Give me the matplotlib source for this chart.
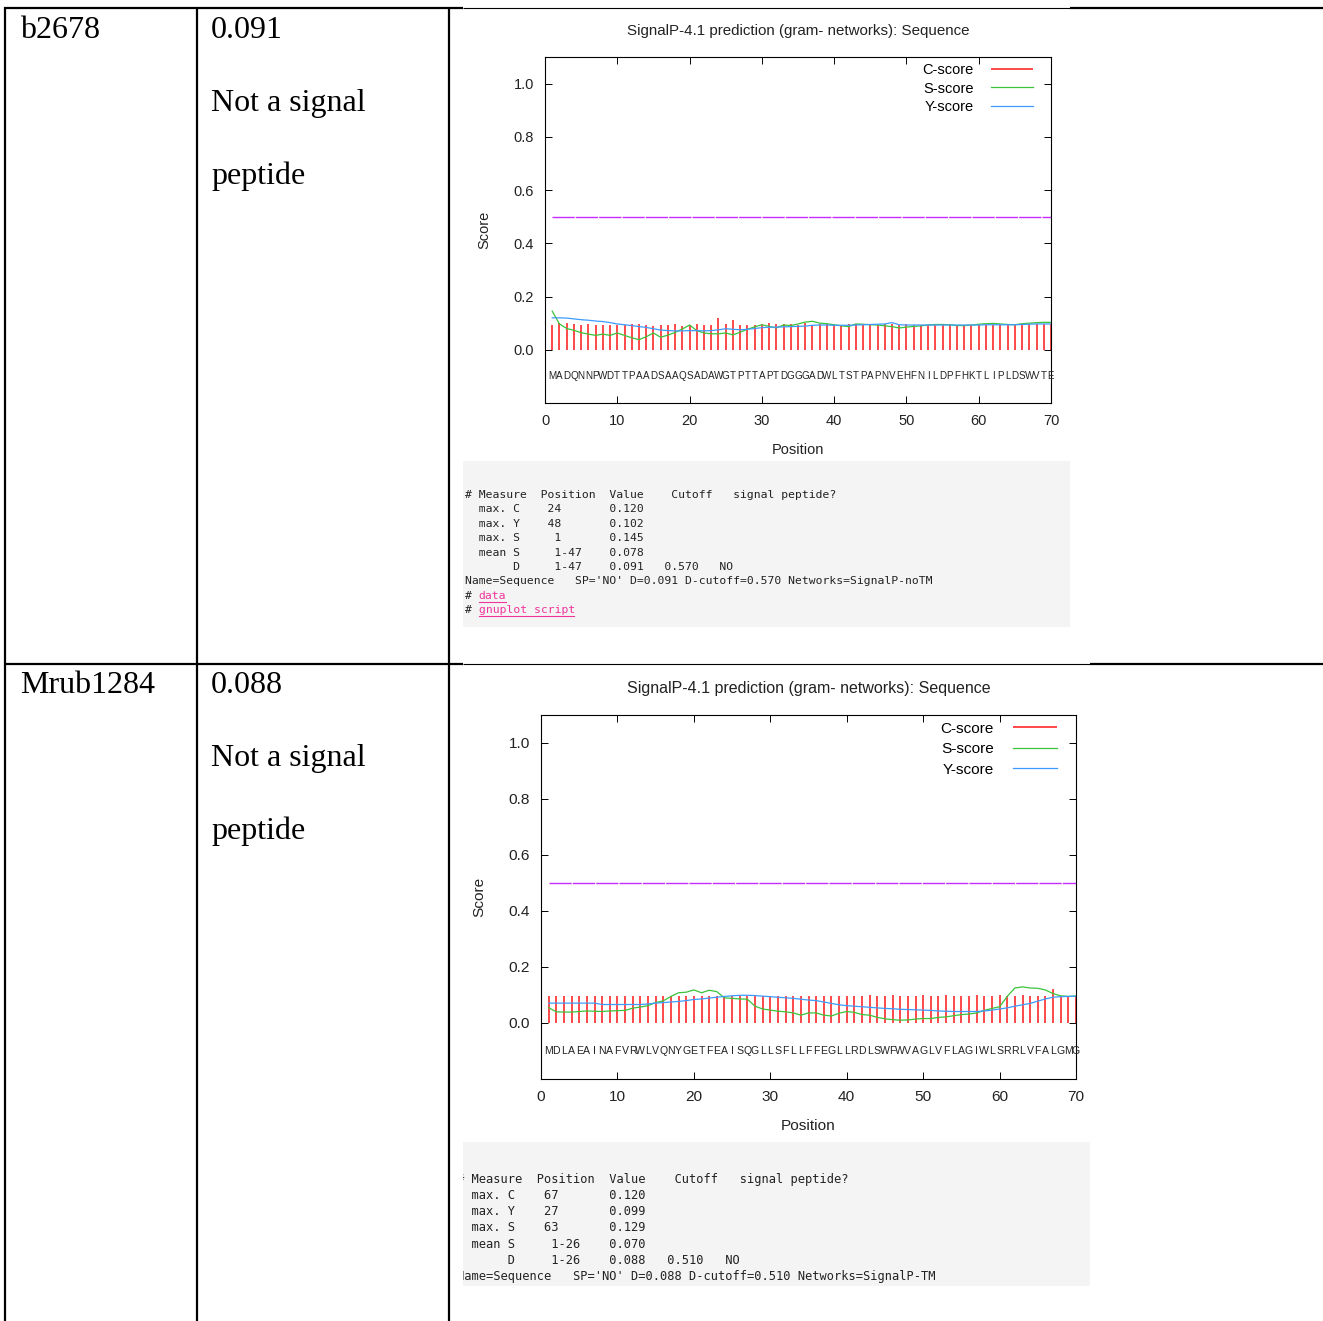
import numpy as np
import matplotlib
matplotlib.use('Agg')
import matplotlib.pyplot as plt

W, H = 1323, 1321

# table cells
gene_ids = ['b2678', 'Mrub1284']
d_scores = ['0.091', '0.088']
verdict = ['Not a signal', 'peptide']

# SignalP per-residue scores
positions = np.arange(1, 71)
cutoff = 0.5

seq1 = 'MADQNNPWDTTPAADSAAQSADAWGTPTTAPTDGGGADWLTSTPAPNVEHFNILDPFHKTLIPLDSWVTE'
c1 = [0.094, 0.099, 0.102, 0.098, 0.094, 0.098, 0.094, 0.094, 0.094, 0.094,
      0.094, 0.098, 0.098, 0.094, 0.090, 0.094, 0.094, 0.098, 0.090, 0.094,
      0.098, 0.094, 0.094, 0.120, 0.098, 0.112, 0.094, 0.094, 0.094, 0.098,
      0.102, 0.098, 0.098, 0.098, 0.094, 0.099, 0.094, 0.098, 0.096, 0.094,
      0.094, 0.096, 0.095, 0.094, 0.094, 0.094, 0.097, 0.095, 0.094, 0.098,
      0.094, 0.094, 0.094, 0.094, 0.094, 0.095, 0.094, 0.094, 0.094, 0.094,
      0.094, 0.094, 0.095, 0.094, 0.094, 0.094, 0.095, 0.096, 0.097, 0.096]
s1 = [0.145, 0.097, 0.080, 0.073, 0.064, 0.059, 0.054, 0.059, 0.054, 0.063,
      0.054, 0.045, 0.038, 0.049, 0.063, 0.047, 0.055, 0.065, 0.078, 0.093,
      0.072, 0.063, 0.060, 0.060, 0.063, 0.056, 0.066, 0.077, 0.086, 0.094,
      0.088, 0.082, 0.093, 0.091, 0.097, 0.104, 0.107, 0.100, 0.098, 0.094,
      0.090, 0.087, 0.097, 0.096, 0.094, 0.093, 0.090, 0.087, 0.082, 0.085,
      0.088, 0.090, 0.093, 0.095, 0.095, 0.094, 0.091, 0.091, 0.093, 0.096,
      0.098, 0.099, 0.097, 0.095, 0.094, 0.098, 0.100, 0.102, 0.103, 0.103]
y1 = [0.120, 0.120, 0.119, 0.116, 0.113, 0.111, 0.108, 0.106, 0.102, 0.097,
      0.094, 0.091, 0.087, 0.084, 0.079, 0.074, 0.072, 0.071, 0.071, 0.072,
      0.072, 0.071, 0.072, 0.075, 0.079, 0.077, 0.075, 0.077, 0.080, 0.083,
      0.085, 0.085, 0.086, 0.087, 0.088, 0.089, 0.092, 0.093, 0.093, 0.092,
      0.092, 0.092, 0.093, 0.094, 0.095, 0.096, 0.097, 0.102, 0.094, 0.093,
      0.093, 0.093, 0.093, 0.093, 0.093, 0.093, 0.093, 0.093, 0.093, 0.093,
      0.094, 0.094, 0.094, 0.094, 0.094, 0.095, 0.096, 0.097, 0.097, 0.097]

seq2 = 'MDLAEAINAFVRWLVQNYGETFEAISQGLLSFLLFFEGLLRDLSWFWVAGLVFLAGIWLSRRLVFALGMG'
c2 = [0.098, 0.098, 0.097, 0.098, 0.098, 0.097, 0.098, 0.098, 0.098, 0.097,
      0.098, 0.098, 0.098, 0.097, 0.098, 0.098, 0.098, 0.098, 0.097, 0.098,
      0.098, 0.098, 0.097, 0.098, 0.098, 0.098, 0.098, 0.097, 0.098, 0.098,
      0.098, 0.097, 0.098, 0.098, 0.098, 0.098, 0.098, 0.097, 0.098, 0.098,
      0.098, 0.098, 0.099, 0.098, 0.098, 0.100, 0.098, 0.098, 0.098, 0.099,
      0.098, 0.098, 0.100, 0.098, 0.098, 0.098, 0.099, 0.098, 0.098, 0.100,
      0.098, 0.098, 0.099, 0.098, 0.098, 0.098, 0.120, 0.098, 0.098, 0.098]
s2 = [0.055, 0.040, 0.039, 0.039, 0.041, 0.043, 0.042, 0.041, 0.043, 0.044,
      0.045, 0.053, 0.057, 0.062, 0.073, 0.079, 0.095, 0.108, 0.110, 0.118,
      0.108, 0.117, 0.112, 0.090, 0.088, 0.086, 0.085, 0.060, 0.050, 0.046,
      0.042, 0.040, 0.036, 0.028, 0.036, 0.036, 0.028, 0.025, 0.035, 0.041,
      0.038, 0.030, 0.028, 0.020, 0.015, 0.012, 0.010, 0.011, 0.014, 0.016,
      0.016, 0.020, 0.022, 0.026, 0.030, 0.032, 0.036, 0.045, 0.052, 0.058,
      0.095, 0.125, 0.129, 0.125, 0.124, 0.118, 0.105, 0.097, 0.095, 0.096]
y2 = [0.071, 0.071, 0.071, 0.071, 0.071, 0.071, 0.071, 0.066, 0.066, 0.066,
      0.066, 0.066, 0.066, 0.068, 0.071, 0.073, 0.075, 0.077, 0.080, 0.084,
      0.086, 0.089, 0.092, 0.095, 0.097, 0.099, 0.099, 0.098, 0.096, 0.094,
      0.092, 0.090, 0.088, 0.085, 0.082, 0.080, 0.075, 0.070, 0.065, 0.062,
      0.060, 0.058, 0.056, 0.054, 0.052, 0.051, 0.049, 0.048, 0.047, 0.046,
      0.045, 0.043, 0.042, 0.041, 0.041, 0.041, 0.041, 0.043, 0.046, 0.050,
      0.054, 0.060, 0.065, 0.070, 0.078, 0.086, 0.092, 0.094, 0.095, 0.096]

# SignalP summary text
summary1 = ["# Measure  Position  Value    Cutoff   signal peptide?",
            "  max. C    24       0.120",
            "  max. Y    48       0.102",
            "  max. S     1       0.145",
            "  mean S     1-47    0.078",
            "       D     1-47    0.091   0.570   NO",
            "Name=Sequence   SP='NO' D=0.091 D-cutoff=0.570 Networks=SignalP-noTM"]
links1 = ['data', 'gnuplot script']
summary2 = ["# Measure  Position  Value    Cutoff   signal peptide?",
            "  max. C    67       0.120",
            "  max. Y    27       0.099",
            "  max. S    63       0.129",
            "  mean S     1-26    0.070",
            "       D     1-26    0.088   0.510   NO",
            "Name=Sequence   SP='NO' D=0.088 D-cutoff=0.510 Networks=SignalP-TM"]

TITLE = 'SignalP-4.1 prediction (gram- networks): Sequence'
INK = '#222222'

fig = plt.figure(figsize=(W / 100, H / 100), dpi=100)


def px_axes(l, t, r, b):
    return fig.add_axes([l / W, 1 - b / H, (r - l) / W, (b - t) / H])


# table grid + left cells
bg = px_axes(0, 0, W, H)
bg.set_xlim(0, W)
bg.set_ylim(H, 0)
bg.axis('off')
thick, thin = 1.6, 0.8
for x in (5, 197, 449):
    bg.plot([x, x], [7, H], color='k', lw=thick, solid_capstyle='butt')
bg.plot([4, 463], [8, 8], color='k', lw=thick, solid_capstyle='butt')
bg.plot([463, 1070], [8, 8], color='k', lw=thin, solid_capstyle='butt')
bg.plot([1070, W], [8, 8], color='k', lw=thick, solid_capstyle='butt')
bg.plot([4, 463], [664, 664], color='k', lw=thick, solid_capstyle='butt')
bg.plot([463, 1090], [663.5, 663.5], color='k', lw=thin, solid_capstyle='butt')
bg.plot([1090, W], [664, 664], color='k', lw=thick, solid_capstyle='butt')

serif = dict(family='Liberation Serif', fontsize=23, color='k', va='baseline')
for top, gid, ds in zip((8, 663), gene_ids, d_scores):
    bg.text(20, top + 30, gid, **serif)
    bg.text(211, top + 30, ds, **serif)
    bg.text(211, top + 103, verdict[0], **serif)
    bg.text(211, top + 176, verdict[1], **serif)


def signalp(box, seq, c, s, y, fs, lspace):
    ax = px_axes(*box)
    ax.vlines(positions, 0, c, color='#ff2a2a', lw=1.2, label='C-score')
    ax.plot(positions, s, color='#3ac43a', lw=0.9, label='S-score')
    ax.plot(positions, y, color='#3d9bff', lw=0.9, label='Y-score')
    ax.hlines(cutoff, positions[0], positions[-1], color='#c62cff', lw=1.0,
              linestyles=(0, (16, 0.8)))
    for p, aa in zip(positions, seq):
        ax.text(p, -0.1, aa, ha='center', va='center', fontsize=fs * 0.68,
                family='Liberation Sans', color=INK)
    ax.set_xlim(0, 70)
    ax.set_ylim(-0.2, 1.1)
    ax.set_xticks(range(0, 71, 10))
    yt = np.arange(0, 1.01, 0.2)
    ax.set_yticks(yt)
    ax.set_yticklabels([f'{v:.1f}' for v in yt])
    ax.tick_params(direction='in', top=True, right=True, length=5, width=0.7,
                   labelsize=fs, labelcolor=INK, pad=8)
    for lab in ax.get_xticklabels() + ax.get_yticklabels():
        lab.set_family('Liberation Sans')
    for sp in ax.spines.values():
        sp.set_linewidth(0.8)
    ax.set_title(TITLE, fontsize=fs * 1.04, family='Liberation Sans', color=INK, pad=16)
    ax.set_xlabel('Position', fontsize=fs, family='Liberation Sans', color=INK, labelpad=11)
    ax.set_ylabel('Score', fontsize=fs, family='Liberation Sans', color=INK, labelpad=16)
    ax.legend(loc='upper right', bbox_to_anchor=(0.965, 0.982), markerfirst=False,
              frameon=False, handlelength=2.9, handletextpad=1.2,
              labelspacing=lspace, borderpad=0, borderaxespad=0,
              prop={'family': 'Liberation Sans', 'size': fs})
    return ax


def summary(box, lines, x0, y0, dy, fs, links=()):
    ax = px_axes(*box)
    l, t, r, b = box
    ax.set_xlim(l, r)
    ax.set_ylim(b, t)
    ax.set_facecolor('#f4f4f4')
    for sp in ax.spines.values():
        sp.set_visible(False)
    ax.set_xticks([])
    ax.set_yticks([])
    cw = fs * 100 / 72 * 0.602
    for i, line in enumerate(lines):
        ax.text(x0, y0 + i * dy, line, family='DejaVu Sans Mono', fontsize=fs,
                color=INK, va='center', ha='left', clip_on=True)
    n = len(lines)
    for j, link in enumerate(links):
        yy = y0 + (n + j) * dy
        ax.text(x0, yy, '# ', family='DejaVu Sans Mono', fontsize=fs,
                color=INK, va='center', ha='left')
        ax.text(x0 + 2 * cw, yy, link, family='DejaVu Sans Mono', fontsize=fs,
                color='#f0349a', va='center', ha='left')
        ax.plot([x0 + 2 * cw, x0 + (2 + len(link)) * cw], [yy + 6, yy + 6],
                color='#f0349a', lw=0.8)
    return ax


signalp((545, 57, 1051, 403), seq1, c1, s1, y1, 10.5, 0.3)
summary((463, 461, 1070, 627), summary1, 465, 495, 14.4, 8.18, links1)

signalp((541, 715, 1076, 1079), seq2, c2, s2, y2, 11.1, 0.42)
summary((463, 1142, 1090, 1286), summary2, 457.2, 1179, 16.3, 8.68)

fig.savefig('out.png', dpi=100, facecolor='white')
